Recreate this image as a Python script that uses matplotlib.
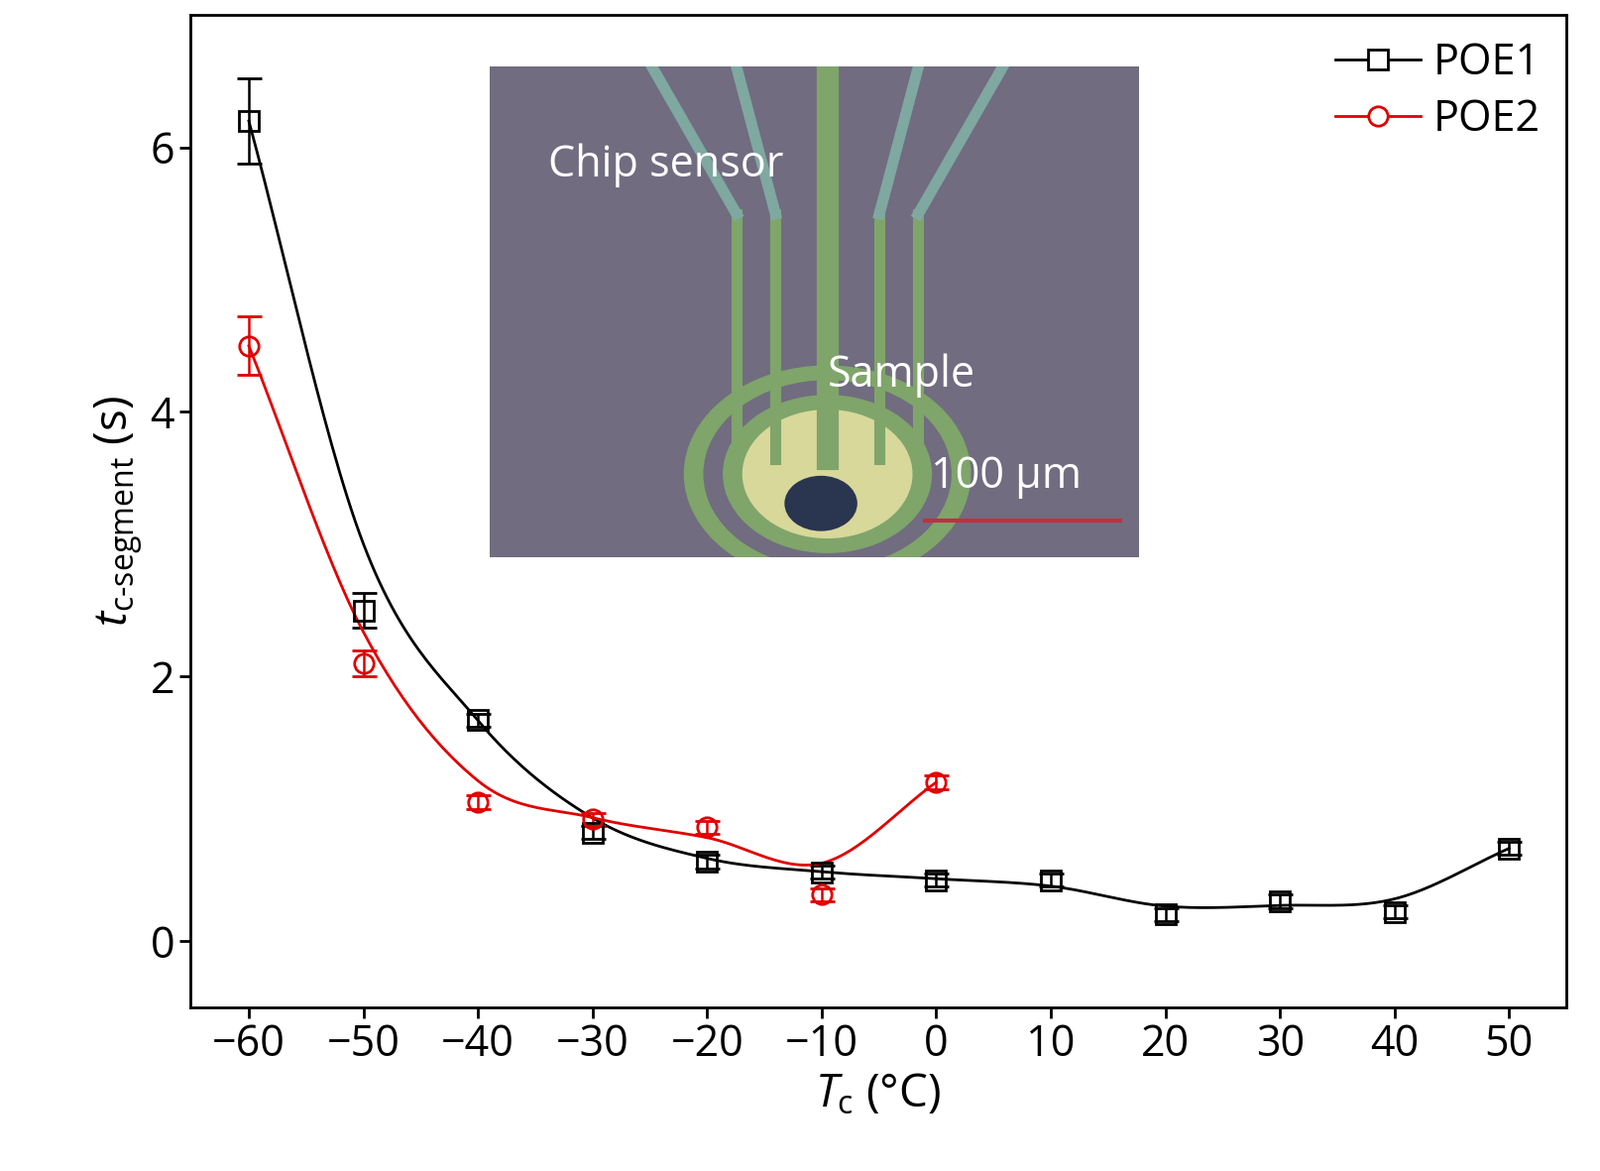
import numpy as np
import matplotlib
matplotlib.use("Agg")
import matplotlib.pyplot as plt
from matplotlib.patches import Circle, Rectangle

plt.rcParams["font.family"] = "Open Sans"
plt.rcParams["mathtext.fontset"] = "custom"
plt.rcParams["mathtext.it"] = "Open Sans:italic"
plt.rcParams["mathtext.rm"] = "Open Sans"

# Data
t_poe1 = [-60, -50, -40, -30, -20, -10, 0, 10, 20, 30, 40, 50]
y_poe1 = [6.2, 2.5, 1.67, 0.82, 0.6, 0.52, 0.46, 0.46, 0.2, 0.3, 0.22, 0.7]
e_poe1 = [0.32, 0.13, 0.05, 0.05, 0.05, 0.05, 0.05, 0.05, 0.05, 0.05, 0.05, 0.05]
t_poe2 = [-60, -50, -40, -30, -20, -10, 0]
y_poe2 = [4.5, 2.1, 1.05, 0.92, 0.86, 0.35, 1.2]
e_poe2 = [0.22, 0.1, 0.05, 0.05, 0.05, 0.05, 0.05]
x_ticks = [-60, -50, -40, -30, -20, -10, 0, 10, 20, 30, 40, 50]
y_ticks = [0, 2, 4, 6]


def smooth(x, y, n=30, k=0.35):
    # light smoothing of the points, then a Catmull-Rom spline for the guide line
    x = np.asarray(x, float)
    y = np.asarray(y, float).copy()
    ys_ = y.copy()
    ys_[1:-1] = (1 - k) * y[1:-1] + k * 0.5 * (y[:-2] + y[2:])
    y = ys_
    px = np.concatenate([[2 * x[0] - x[1]], x, [2 * x[-1] - x[-2]]])
    py = np.concatenate([[2 * y[0] - y[1]], y, [2 * y[-1] - y[-2]]])
    xs, ys = [], []
    for i in range(1, len(px) - 2):
        t = np.linspace(0, 1, n)
        for p, out in ((px, xs), (py, ys)):
            p0, p1, p2, p3 = p[i - 1], p[i], p[i + 1], p[i + 2]
            out.append(0.5 * (2 * p1 + (-p0 + p2) * t + (2 * p0 - 5 * p1 + 4 * p2 - p3) * t**2
                              + (-p0 + 3 * p1 - 3 * p2 + p3) * t**3))
    return np.concatenate(xs), np.concatenate(ys)


fig = plt.figure(figsize=(16.14, 11.81), dpi=100)
ax = fig.add_axes([0.119, 0.14, 0.86, 0.847])

for t, y, e, c, m, lab in ((t_poe1, y_poe1, e_poe1, "black", "s", "POE1"),
                           (t_poe2, y_poe2, e_poe2, "#e00000", "o", "POE2")):
    sx, sy = smooth(t, y)
    ax.plot(sx, sy, color=c, lw=2)
    ax.errorbar(t, y, yerr=e, fmt=m, ms=14, mfc="none", mec=c, mew=2,
                ecolor=c, elinewidth=1.8, capsize=9, capthick=1.8)
    ax.plot([], [], color=c, lw=2, marker=m, ms=14, mfc="white", mec=c, mew=2, label=lab)

ax.set_xlim(-65.1, 55)
ax.set_ylim(-0.5, 7)
ax.set_xticks(x_ticks)
ax.set_xticklabels([f"\u2212{-v}" if v < 0 else str(v) for v in x_ticks])
ax.set_yticks(y_ticks)
ax.tick_params(labelsize=31, width=2, length=8, direction="out")
for s in ax.spines.values():
    s.set_linewidth(2)
ax.set_xlabel(r"$T_{\mathrm{c}}$ (°C)", fontsize=33)
ax.set_ylabel(r"$t_{\mathrm{c\text{-}segment}}$ (s)", fontsize=33)
ax.legend(loc="upper right", fontsize=31, frameon=False, handlelength=2.0,
          handletextpad=0.3, borderaxespad=0.2, labelspacing=0.3)

# Inset micrograph sketch
ins = fig.add_axes([0.306, 0.524, 0.406, 0.419])
ins.set_xlim(0, 1)
ins.set_ylim(0, 1)
ins.axis("off")
ins.add_patch(Rectangle((0, 0), 1, 1, color="#716c80"))
g = "#7fa56a"
ins.add_patch(Circle((0.52, 0.17), 0.22, color=g))
ins.add_patch(Circle((0.52, 0.17), 0.19, color="#716c80"))
ins.add_patch(Circle((0.52, 0.17), 0.16, color=g))
for dx in (-0.14, -0.08, 0.08, 0.14):
    ins.plot([0.52 + dx, 0.52 + dx], [0.2, 0.7], color=g, lw=8)
for dx, x0 in ((-0.14, 0.25), (-0.08, 0.38), (0.08, 0.66), (0.14, 0.79)):
    ins.plot([x0, 0.52 + dx], [1.0, 0.7], color="#7fa8a0", lw=8)
ins.plot([0.52, 0.52], [0.2, 1.0], color=g, lw=16)
ins.add_patch(Circle((0.52, 0.17), 0.13, color="#d8d89a"))
ins.plot([0.52, 0.52], [0.2, 0.4], color=g, lw=8)
ins.add_patch(Circle((0.51, 0.11), 0.055, color="#2a3550"))
ins.plot([0.67, 0.97], [0.075, 0.075], color="#c03040", lw=3)
ins.text(0.09, 0.8, "Chip sensor", color="white", fontsize=31, va="center")
ins.text(0.52, 0.37, "Sample", color="white", fontsize=31, va="center")
ins.text(0.68, 0.165, "100 μm", color="white", fontsize=31, va="center")

fig.savefig("out.png", dpi=100)
